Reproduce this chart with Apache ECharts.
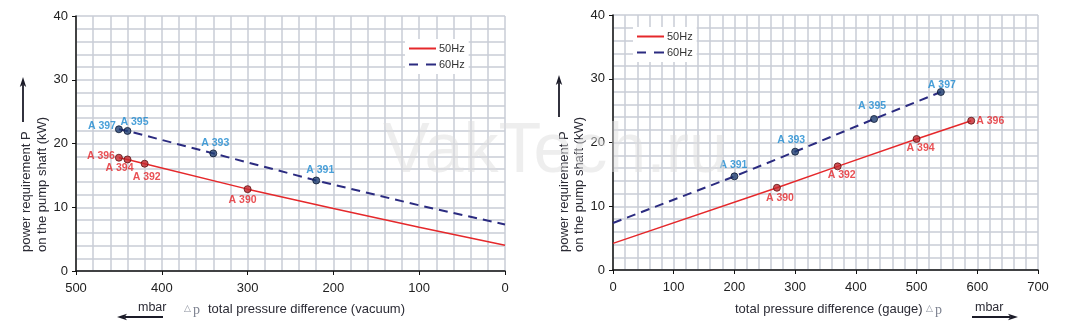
<!DOCTYPE html>
<html><head><meta charset="utf-8">
<script src="https://cdn.jsdelivr.net/npm/echarts@6/dist/echarts.min.js"></script>
<style>html,body{margin:0;padding:0;background:#fff}#c{width:1087px;height:330px}</style>
</head><body><div id="c"></div>
<script>
// ---------- data ----------
// Left chart: vacuum (mbar), x axis reversed
const vacLineX50 = [450, 440, 420, 300, 200, 100, 0];
const vacLineY50 = [17.77, 17.5, 16.83, 12.84, 9.8, 6.85, 4.04];
const vacLineX60 = [450, 440, 340, 220, 100, 0];
const vacLineY60 = [22.23, 21.97, 18.45, 14.2, 10.3, 7.29];
const vacNames50 = ['A 396', 'A 394', 'A 392', 'A 390'];
const vacPtX50 = [450, 440, 420, 300];
const vacPtY50 = [17.77, 17.5, 16.83, 12.84];
const vacNames60 = ['A 397', 'A 395', 'A 393', 'A 391'];
const vacPtX60 = [450, 440, 340, 220];
const vacPtY60 = [22.23, 21.97, 18.45, 14.2];

// Right chart: gauge (mbar)
const gaugeLineX50 = [0, 270, 370, 500, 590];
const gaugeLineY50 = [4.18, 12.9, 16.26, 20.55, 23.42];
const gaugeLineX60 = [0, 200, 300, 430, 540];
const gaugeLineY60 = [7.37, 14.69, 18.56, 23.69, 27.92];
const gaugeNames50 = ['A 390', 'A 392', 'A 394', 'A 396'];
const gaugePtX50 = [270, 370, 500, 590];
const gaugePtY50 = [12.9, 16.26, 20.55, 23.42];
const gaugeNames60 = ['A 391', 'A 393', 'A 395', 'A 397'];
const gaugePtX60 = [200, 300, 430, 540];
const gaugePtY60 = [14.69, 18.56, 23.69, 27.92];

const seriesNames = ['50Hz', '60Hz'];
const yTickMax = 40;
const vacMax = 500;
const gaugeMax = 700;

// ---------- label placement (style) ----------
const vacOff50 = [[-18, -2], [-8, 9], [2, 13], [-5, 11]];
const vacOff60 = [[-17, -3], [7, -9], [2, -10], [4, -10]];
const gaugeOff50 = [[3, 10], [4, 9], [4, 9], [19, 0]];
const gaugeOff60 = [[-1, -11], [-4, -12], [-2, -13], [1, -7]];

// ---------- styles ----------
const RED = '#e5282b', NAVY = '#2b2b80';
const LBL_RED = '#e3262a', LBL_BLUE = '#1c88d0';
const GRIDC = '#c9cdd6';
const ICON_SOLID = 'path://M0,0H27V2H0Z';
const ICON_DASH = 'path://M0,0H9V2H0Z M17,0H27V2H17Z';

function zip(xs, ys) { return xs.map((x, i) => [x, ys[i]]); }
function pts(xs, ys, names, offs) {
  return xs.map((x, i) => ({ value: [x, ys[i]], name: names[i], label: { offset: offs[i] } }));
}
function xAx(gi, max, inverse) {
  return {
    type: 'value', gridIndex: gi, min: 0, max: max, interval: 100, inverse: inverse,
    axisLine: { show: true, onZero: false, lineStyle: { color: '#111', width: 1.5 } },
    axisTick: { show: true, length: 4, lineStyle: { color: '#111', width: 1 } },
    axisLabel: { color: '#222', fontSize: 13, margin: 11, fontFamily: 'Arial' },
    splitLine: { show: true, lineStyle: { color: GRIDC, width: 1.5 } },
    minorTick: { show: false, splitNumber: 5 },
    minorSplitLine: { show: true, lineStyle: { color: GRIDC, width: 1.5 } }
  };
}
function yAx(gi) {
  return {
    type: 'value', gridIndex: gi, min: 0, max: yTickMax, interval: 10,
    axisLine: { show: true, onZero: false, lineStyle: { color: '#111', width: 1.5 } },
    axisTick: { show: true, length: 4, lineStyle: { color: '#111', width: 1 } },
    axisLabel: { color: '#222', fontSize: 13, margin: 8, fontFamily: 'Arial' },
    splitLine: { show: true, lineStyle: { color: GRIDC, width: 1.5 } },
    minorTick: { show: false, splitNumber: 5 },
    minorSplitLine: { show: true, lineStyle: { color: GRIDC, width: 1.5 } }
  };
}
function lineS(name, gi, data, dashed) {
  return {
    name: name, type: 'line', xAxisIndex: gi, yAxisIndex: gi, data: data,
    symbol: 'none', smooth: false, z: 3, silent: true,
    lineStyle: dashed ? { color: NAVY, width: 2, type: [9, 6] } : { color: RED, width: 1.5 },
    itemStyle: { color: dashed ? NAVY : RED }
  };
}
function ptS(gi, data, blue) {
  return {
    name: blue ? 'pts60' : 'pts50', type: 'scatter', xAxisIndex: gi, yAxisIndex: gi, data: data,
    symbolSize: 7, z: 5,
    itemStyle: blue ? { color: '#1f3d72', borderColor: '#0e1a33', borderWidth: 1 }
                    : { color: '#c4262c', borderColor: '#5a1414', borderWidth: 1 },
    label: { show: true, position: 'inside', formatter: '{b}', color: blue ? LBL_BLUE : LBL_RED,
             fontSize: 10.5, fontWeight: 'bold', fontFamily: 'Arial' }
  };
}
function legendAt(left, top) {
  return {
    data: [{ name: seriesNames[0], icon: ICON_SOLID }, { name: seriesNames[1], icon: ICON_DASH }],
    orient: 'vertical', left: left, top: top, backgroundColor: '#fff',
    padding: [3, 4, 3, 4], itemWidth: 27, itemHeight: 2, itemGap: 3, selectedMode: false,
    textStyle: { color: '#333', fontSize: 11, fontFamily: 'Arial', lineHeight: 13, padding: [0, 0, 0, -2] }
  };
}
function vText(x, y, t) {
  return { type: 'text', x: x, y: y, rotation: Math.PI / 2, silent: true, z: 50,
    style: { text: t, font: '13px Arial', fill: '#2b2b35', align: 'left', verticalAlign: 'middle' } };
}
function hText(x, y, t, size) {
  return { type: 'text', x: x, y: y, silent: true, z: 50,
    style: { text: t, font: (size || 13) + 'px Arial', fill: '#2b2b35', align: 'left', verticalAlign: 'middle' } };
}
function dp(x, y) {
  return { type: 'text', x: x, y: y, silent: true, z: 50,
    style: { text: '{t|△}{p|p}', align: 'left', verticalAlign: 'middle',
      rich: { t: { fontSize: 9, fill: '#8a8f9c', fontFamily: 'DejaVu Sans', padding: [0, 2, 2, 0] },
              p: { fontSize: 14, fill: '#7d8290', fontFamily: 'Liberation Serif' } } } };
}
function arrow(x1, y1, x2, y2) {
  const dx = x2 - x1, dy = y2 - y1, L = Math.hypot(dx, dy), ux = dx / L, uy = dy / L;
  const hl = 10, hw = 3.2;
  const bx = x2 - ux * hl, by = y2 - uy * hl;
  const mx = x2 - ux * (hl - 2.5), my = y2 - uy * (hl - 2.5);
  return [
    { type: 'line', silent: true, z: 50, shape: { x1: x1, y1: y1, x2: mx, y2: my }, style: { stroke: '#1b1b28', lineWidth: 1.8 } },
    { type: 'polygon', silent: true, z: 50, shape: { points: [[x2, y2], [bx - uy * hw, by + ux * hw], [mx, my], [bx + uy * hw, by - ux * hw]] },
      style: { fill: '#1b1b28' } }
  ];
}

const chart = echarts.init(document.getElementById('c'), null, { renderer: 'canvas' });
chart.setOption({
  animation: false,
  backgroundColor: '#fff',
  grid: [
    { left: 76, top: 16, width: 429, height: 255 },
    { left: 613, top: 15, width: 425, height: 255 }
  ],
  xAxis: [xAx(0, vacMax, true), xAx(1, gaugeMax, false)],
  yAxis: [yAx(0), yAx(1)],
  legend: [legendAt(405, 39), legendAt(633, 27)],
  series: [
    lineS(seriesNames[0], 0, zip(vacLineX50, vacLineY50), false),
    lineS(seriesNames[1], 0, zip(vacLineX60, vacLineY60), true),
    lineS(seriesNames[0], 1, zip(gaugeLineX50, gaugeLineY50), false),
    lineS(seriesNames[1], 1, zip(gaugeLineX60, gaugeLineY60), true),
    ptS(0, pts(vacPtX50, vacPtY50, vacNames50, vacOff50), false),
    ptS(0, pts(vacPtX60, vacPtY60, vacNames60, vacOff60), true),
    ptS(1, pts(gaugePtX50, gaugePtY50, gaugeNames50, gaugeOff50), false),
    ptS(1, pts(gaugePtX60, gaugePtY60, gaugeNames60, gaugeOff60), true)
  ],
  graphic: [
    vText(26, 252, 'power requirement P'),
    vText(42, 252, 'on the pump shaft (kW)'),
    vText(564, 252, 'power requirement P'),
    vText(579, 252, 'on the pump shaft (kW)'),
    ...arrow(23, 122, 23, 77),
    ...arrow(559, 117, 559, 75),
    hText(138, 308, 'mbar', 12.5),
    dp(184, 310),
    hText(208, 309, 'total pressure difference (vacuum)'),
    ...arrow(163, 317, 117, 317),
    hText(735, 309, 'total pressure difference (gauge)'),
    dp(926, 310),
    hText(975, 308, 'mbar', 12.5),
    ...arrow(972, 317, 1018, 317),
    { type: 'text', x: 383, y: 153, silent: true, z: 60,
      style: { text: 'VakTech.ru', font: '70px Arial', fill: 'rgba(222,222,222,0.5)', align: 'left', verticalAlign: 'middle' } }
  ]
});
</script></body></html>
